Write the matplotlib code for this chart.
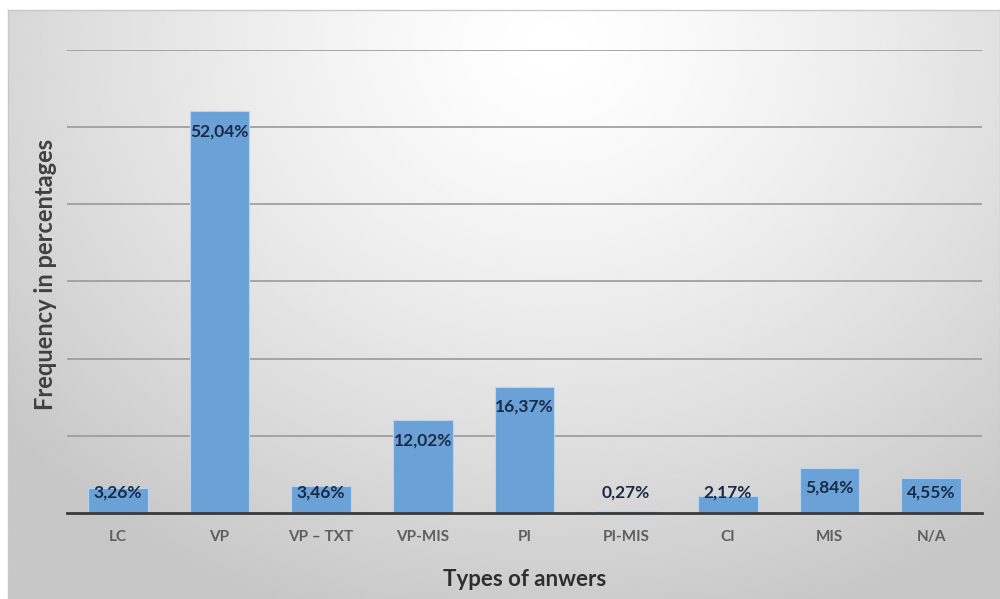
import numpy as np
import matplotlib
matplotlib.use("Agg")
import matplotlib.pyplot as plt

CATEGORIES = ["LC", "VP", "VP – TXT", "VP-MIS", "PI", "PI-MIS", "CI", "MIS", "N/A"]
VALUES = [3.26, 52.04, 3.46, 12.02, 16.37, 0.27, 2.17, 5.84, 4.55]
VALUE_LABELS = ["3,26%", "52,04%", "3,46%", "12,02%", "16,37%", "0,27%", "2,17%", "5,84%", "4,55%"]

BAR_COLOR = "#6aa2d8"
FONT = ["Lato", "DejaVu Sans"]

plt.rcParams["font.family"] = FONT

fig = plt.figure(figsize=(10.0, 5.99), dpi=100)

# radial grey gradient behind the chart, like the office chart style
bg = fig.add_axes([0.008, 0.0, 0.992, 0.983])
ny, nx = 300, 500
yy, xx = np.mgrid[0:ny, 0:nx]
cx, cy = 0.55 * nx, 0.06 * ny
dist = np.sqrt(((xx - cx) / nx) ** 2 + ((yy - cy) / ny * 0.7) ** 2)
shade = np.clip(1.0 - 0.34 * dist ** 1.3, 0.78, 1.0)
bg.imshow(shade, cmap="gray", vmin=0, vmax=1, aspect="auto", interpolation="bilinear")
bg.set_xticks([])
bg.set_yticks([])
for s in bg.spines.values():
    s.set_color("#c8c8c8")
    s.set_linewidth(1.0)

ax = fig.add_axes([0.067, 0.1436, 0.915, 0.773])
ax.set_facecolor("none")
x = np.arange(len(CATEGORIES))
ax.bar(x, VALUES, width=0.59, color=BAR_COLOR, edgecolor="#b8d4ee", linewidth=0.8, zorder=3)

for xi, v, lab in zip(x, VALUES, VALUE_LABELS):
    ypos = max(v - 2.6, 2.6)
    ax.text(xi, ypos, lab, ha="center", va="center", fontsize=12.5,
            fontweight="bold", color="#1b2a44", zorder=4)

ax.set_xlim(-0.5, len(CATEGORIES) - 0.5)
ax.set_ylim(0, 60)
ax.set_yticks(np.arange(10, 61, 10))
ax.yaxis.grid(True, color="#9a9a9a", linewidth=1.2, zorder=0)
ax.tick_params(axis="y", length=0, labelleft=False)
ax.set_xticks(x)
ax.set_xticklabels(CATEGORIES, fontsize=11, fontweight="bold", color="#5e5e5e")
ax.tick_params(axis="x", length=0, pad=12)
for side in ["top", "right", "left"]:
    ax.spines[side].set_visible(False)
ax.spines["bottom"].set_color("#3a3a3a")
ax.spines["bottom"].set_linewidth(2.0)
ax.spines["bottom"].set_zorder(5)

ax.set_xlabel("Types of anwers", fontsize=16, fontweight="bold", color="#2e2e2e", labelpad=18)
ax.set_ylabel("Frequency in percentages", fontsize=17, fontweight="bold", color="#404040")
ax.yaxis.set_label_coords(-0.011, 0.515)

fig.savefig("out.png", dpi=100)
